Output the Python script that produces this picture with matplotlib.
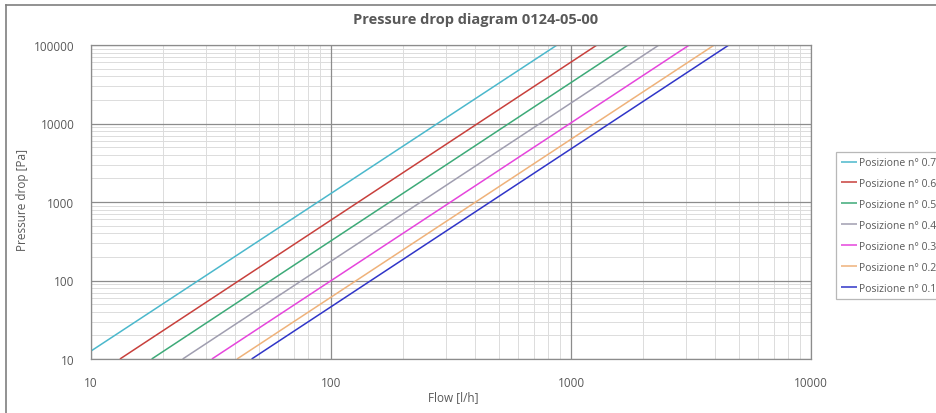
import matplotlib
matplotlib.use("Agg")
import matplotlib.pyplot as plt
from matplotlib.lines import Line2D
from matplotlib.ticker import LogLocator, FixedLocator, FixedFormatter, NullFormatter

plt.rcParams['font.family'] = ['Open Sans', 'DejaVu Sans']

# Data: flow [l/h] where each curve meets 10 Pa and 100000 Pa
labels = ["Posizione n° 0.7", "Posizione n° 0.6", "Posizione n° 0.5", "Posizione n° 0.4",
          "Posizione n° 0.3", "Posizione n° 0.2", "Posizione n° 0.1"]
flow_low = [8.9, 13.2, 17.9, 24.1, 31.9, 40.6, 46.7]        # flow at 10 Pa
flow_high = [875, 1283, 1728, 2327, 3113, 3954, 4549]        # flow at 100000 Pa
pressure_ends = [10, 100000]
colors = ["#4BB8CC", "#C8403C", "#3DAA78", "#A09EB0", "#E645DC", "#EFB27A", "#3035C8"]

x_ticks = [10, 100, 1000, 10000]
y_ticks = [10, 100, 1000, 10000, 100000]

W, H = 936, 414
fig = plt.figure(figsize=(W / 100, H / 100), dpi=100)
ax = fig.add_axes([91 / W, (H - 360) / H, (811 - 91) / W, (360 - 46) / H])

for lo, hi, c, lab in zip(flow_low, flow_high, colors, labels):
    ax.plot([lo, hi], pressure_ends, color=c, lw=1.1, label=lab, solid_capstyle='butt', zorder=3)

ax.set_xscale('log')
ax.set_yscale('log')
ax.set_xlim(10, 10000)
ax.set_ylim(10, 100000)

ax.xaxis.set_major_locator(FixedLocator(x_ticks))
ax.xaxis.set_major_formatter(FixedFormatter([str(v) for v in x_ticks]))
ax.yaxis.set_major_locator(FixedLocator(y_ticks))
ax.yaxis.set_major_formatter(FixedFormatter([str(v) for v in y_ticks]))
ax.xaxis.set_minor_locator(LogLocator(base=10, subs=range(2, 10)))
ax.yaxis.set_minor_locator(LogLocator(base=10, subs=range(2, 10)))
ax.xaxis.set_minor_formatter(NullFormatter())
ax.yaxis.set_minor_formatter(NullFormatter())

ax.grid(which='minor', color='#DCDCDC', lw=0.7)
ax.set_axisbelow(True)
for v in x_ticks:
    ax.axvline(v, color='#8C8C8C', lw=0.9, zorder=1)
for v in y_ticks:
    ax.axhline(v, color='#8C8C8C', lw=0.9, zorder=1)

ax.tick_params(which='both', length=0, labelsize=8.5, labelcolor='#595959')
ax.tick_params(axis='x', pad=12)
ax.tick_params(axis='y', pad=12)
for s in ax.spines.values():
    s.set_color('#8C8C8C')
    s.set_linewidth(0.9)
    s.set_zorder(4)

ax.set_xlabel("Flow [l/h]", fontsize=8.5, color='#595959')
ax.set_ylabel("Pressure drop [Pa]", fontsize=8.5, color='#595959')
ax.xaxis.set_label_coords((453 - 91) / (811 - 91), -(391 - 360) / (360 - 46))
ax.yaxis.set_label_coords(-(91 - 29) / (811 - 91), (360 - 200) / (360 - 46))

fig.text(476 / W, 1 - 20 / H, "Pressure drop diagram 0124-05-00", ha='center', va='center',
         fontsize=10.5, fontweight='bold', color='#595959')

leg = fig.legend(loc='upper left', bbox_to_anchor=(836 / W, 1 - 153 / H), fontsize=7.5,
                 frameon=True, fancybox=False, edgecolor='#A6A6A6', handlelength=1.5,
                 handletextpad=0.2, labelspacing=0.95, borderpad=0.5, borderaxespad=0)
leg.get_frame().set_linewidth(0.9)
for t in leg.get_texts():
    t.set_color('#595959')

# chart area border (left and top visible)
fig.add_artist(Line2D([5.5 / W, 5.5 / W], [0, 1 - 6 / H], transform=fig.transFigure,
                      color='#7F7F7F', lw=1.2))
fig.add_artist(Line2D([5.5 / W, 1], [1 - 6 / H, 1 - 6 / H], transform=fig.transFigure,
                      color='#7F7F7F', lw=1.2))

fig.savefig("out.png", dpi=100)
